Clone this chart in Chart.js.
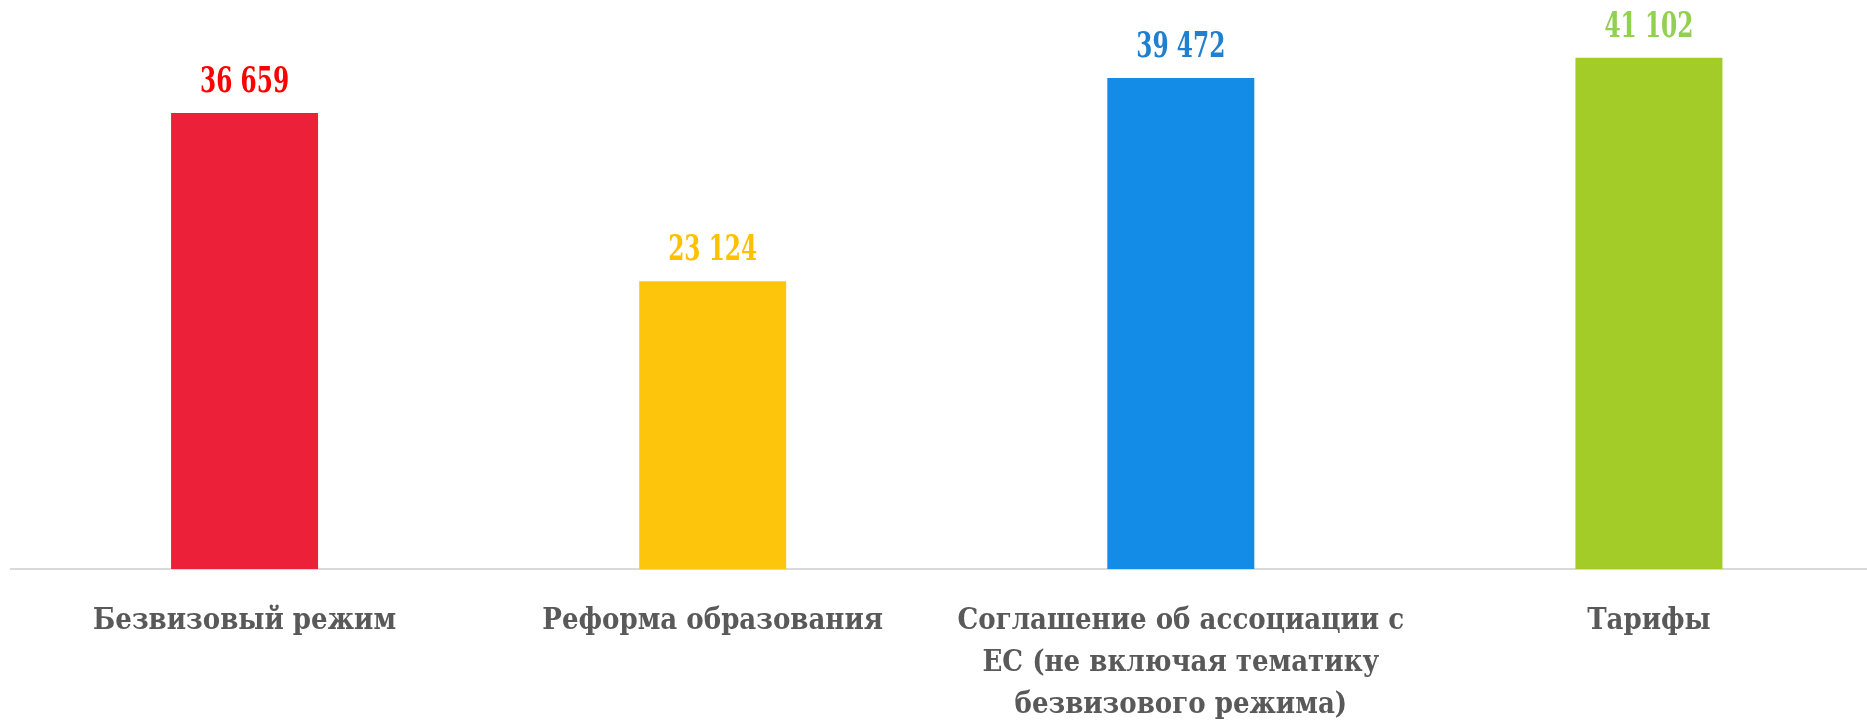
<!DOCTYPE html>
<html>
<head>
<meta charset="utf-8">
<script src="https://cdn.jsdelivr.net/npm/chart.js@4/dist/chart.umd.min.js"></script>
<style>
  html, body { margin: 0; padding: 0; background: #fff; overflow: hidden; }
  #wrap { width: 1884px; height: 725px; }
</style>
</head>
<body>
<div id="wrap"><canvas id="chart"></canvas></div>
<script>
// Data
const categories = [
    'Безвизовый режим',
    'Реформа образования',
    ['Соглашение об ассоциации с', 'ЕС (не включая тематику', 'безвизового режима)'],
    'Тарифы'
];
const values = [36659, 23124, 39472, 41102];
const valueLabels = ['36 659', '23 124', '39 472', '41 102'];
const barColors = ['#EC2139', '#FDC60C', '#128CE6', '#A4CC29'];
const labelColors = ['#FF0000', '#FFC000', '#1F80D0', '#92D050'];

// Draw the value above each bar (narrowed a bit to look like the condensed original)
const valueLabelPlugin = {
    id: 'valueLabels',
    afterDatasetsDraw(chart) {
        const ctx = chart.ctx;
        const meta = chart.getDatasetMeta(0);
        ctx.save();
        ctx.font = '600 35px "DejaVu Serif Condensed", "DejaVu Serif", serif';
        ctx.textAlign = 'center';
        ctx.textBaseline = 'middle';
        meta.data.forEach((bar, i) => {
            const w = ctx.measureText(valueLabels[i]).width;
            const sx = 89 / w;
            ctx.save();
            ctx.translate(bar.x, bar.y - 30);
            ctx.scale(sx, 1);
            ctx.fillStyle = labelColors[i];
            ctx.fillText(valueLabels[i], 0, 0);
            ctx.restore();
        });
        ctx.restore();
    }
};

new Chart(document.getElementById('chart').getContext('2d'), {
    type: 'bar',
    data: {
        labels: categories,
        datasets: [{
            data: values,
            backgroundColor: barColors,
            barPercentage: 0.314,
            categoryPercentage: 1
        }]
    },
    options: {
        responsive: true,
        maintainAspectRatio: false,
        animation: false,
        layout: { padding: { left: 10.5, right: 1, top: 0, bottom: 0 } },
        plugins: {
            legend: { display: false },
            tooltip: { enabled: false }
        },
        scales: {
            y: {
                display: false,
                min: 0,
                max: 45740
            },
            x: {
                grid: { display: false },
                border: { display: true, color: '#D9D9D9', width: 2 },
                ticks: {
                    autoSkip: false,
                    maxRotation: 0,
                    padding: 24,
                    color: '#595959',
                    font: { family: '"DejaVu Serif Condensed", "DejaVu Serif", serif', size: 29, weight: 'bold', lineHeight: 1.44 }
                },
                afterFit(scale) { scale.height = 156; }
            }
        }
    },
    plugins: [valueLabelPlugin]
});
</script>
</body>
</html>
